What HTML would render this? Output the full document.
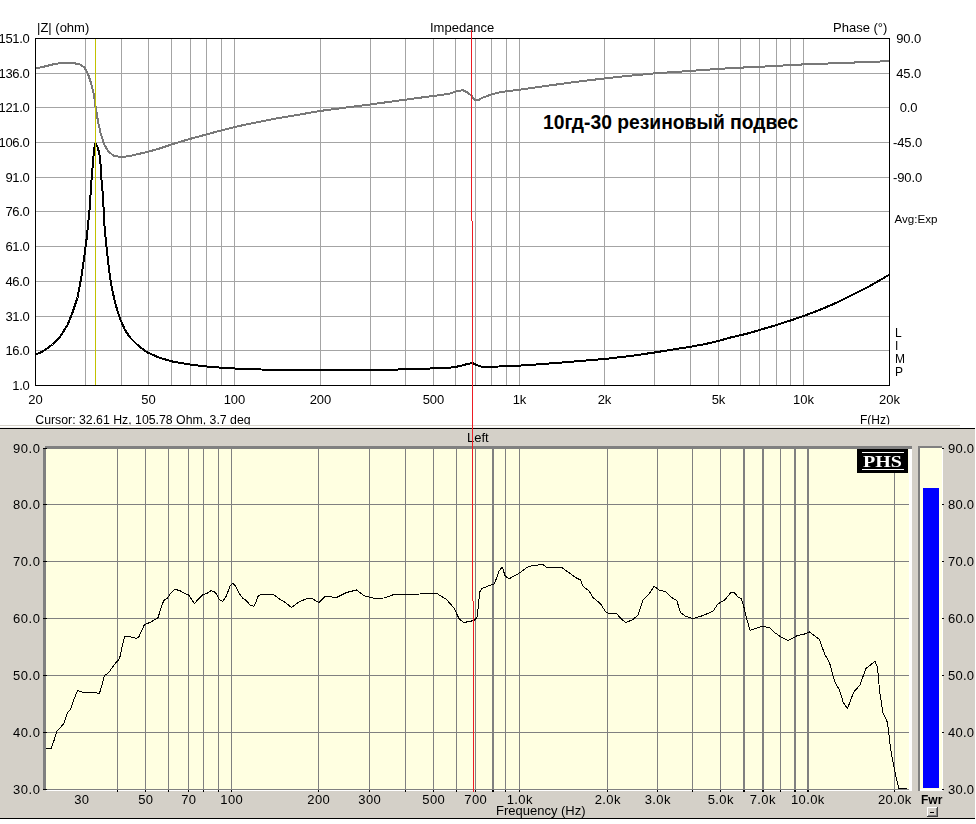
<!DOCTYPE html>
<html><head><meta charset="utf-8"><title>chart</title>
<style>html,body{margin:0;padding:0;background:#fff;}body{width:976px;height:824px;overflow:hidden;font-family:"Liberation Sans",sans-serif;}svg{display:block;position:absolute;left:0;top:0}text{font-family:"Liberation Sans",sans-serif;fill:#000}.s{font-family:"Liberation Serif",serif}</style>
</head><body>
<svg width="976" height="824" viewBox="0 0 976 824">
<rect x="0" y="0" width="976" height="824" fill="#ffffff"/>
<clipPath id="cc"><rect x="0" y="405" width="976" height="19.5"/></clipPath>
<filter id="g" x="0" y="0" width="976" height="824" filterUnits="userSpaceOnUse"><feOffset dx="0" dy="0"/></filter>
<g shape-rendering="crispEdges">
<rect x="85" y="38" width="1" height="348" fill="#a4a4a4"/>
<rect x="121" y="38" width="1" height="348" fill="#a4a4a4"/>
<rect x="148" y="38" width="1" height="348" fill="#a4a4a4"/>
<rect x="171" y="38" width="1" height="348" fill="#a4a4a4"/>
<rect x="190" y="38" width="1" height="348" fill="#a4a4a4"/>
<rect x="206" y="38" width="1" height="348" fill="#a4a4a4"/>
<rect x="221" y="38" width="1" height="348" fill="#a4a4a4"/>
<rect x="234" y="38" width="1" height="348" fill="#a4a4a4"/>
<rect x="320" y="38" width="1" height="348" fill="#a4a4a4"/>
<rect x="370" y="38" width="1" height="348" fill="#a4a4a4"/>
<rect x="405" y="38" width="1" height="348" fill="#a4a4a4"/>
<rect x="433" y="38" width="1" height="348" fill="#a4a4a4"/>
<rect x="455" y="38" width="1" height="348" fill="#a4a4a4"/>
<rect x="475" y="38" width="1" height="348" fill="#a4a4a4"/>
<rect x="491" y="38" width="1" height="348" fill="#a4a4a4"/>
<rect x="506" y="38" width="1" height="348" fill="#a4a4a4"/>
<rect x="519" y="38" width="1" height="348" fill="#a4a4a4"/>
<rect x="604" y="38" width="1" height="348" fill="#a4a4a4"/>
<rect x="654" y="38" width="1" height="348" fill="#a4a4a4"/>
<rect x="690" y="38" width="1" height="348" fill="#a4a4a4"/>
<rect x="718" y="38" width="1" height="348" fill="#a4a4a4"/>
<rect x="740" y="38" width="1" height="348" fill="#a4a4a4"/>
<rect x="759" y="38" width="1" height="348" fill="#a4a4a4"/>
<rect x="776" y="38" width="1" height="348" fill="#a4a4a4"/>
<rect x="790" y="38" width="1" height="348" fill="#a4a4a4"/>
<rect x="803" y="38" width="1" height="348" fill="#a4a4a4"/>
<rect x="35" y="73" width="854" height="1" fill="#a4a4a4"/>
<rect x="35" y="107" width="854" height="1" fill="#a4a4a4"/>
<rect x="35" y="142" width="854" height="1" fill="#a4a4a4"/>
<rect x="35" y="177" width="854" height="1" fill="#a4a4a4"/>
<rect x="35" y="211" width="854" height="1" fill="#a4a4a4"/>
<rect x="35" y="246" width="854" height="1" fill="#a4a4a4"/>
<rect x="35" y="281" width="854" height="1" fill="#a4a4a4"/>
<rect x="35" y="316" width="854" height="1" fill="#a4a4a4"/>
<rect x="35" y="350" width="854" height="1" fill="#a4a4a4"/>
</g>
<polyline points="35.50,68.40 45.00,66.40 55.00,63.90 62.50,62.90 72.50,62.90 80.00,64.40 84.50,67.40 88.00,73.90 91.25,83.90 93.75,93.90 95.50,106.40 98.00,121.40 100.75,133.90 104.00,143.90 108.00,150.90 113.75,155.90 122.50,157.15 132.50,155.40 147.50,151.90 160.00,148.40 171.50,144.40 190.00,138.90 206.50,134.40 221.50,130.40 235.00,126.90 255.00,122.65 274.00,118.90 299.00,114.65 320.50,110.90 349.00,107.15 370.50,104.40 405.50,99.65 433.50,95.90 449.00,93.90 456.50,91.40 462.75,90.15 467.75,92.65 471.50,95.65 474.00,99.40 477.75,100.40 482.75,97.65 491.50,94.40 500.25,92.15 518.00,89.90 543.00,86.40 568.00,82.90 604.50,78.40 630.50,75.65 654.50,73.40 690.50,70.90 718.50,68.90 740.50,67.65 762.00,66.65 803.50,64.40 844.50,62.90 889.50,61.15" fill="none" stroke="#787878" stroke-width="2" stroke-linejoin="round" shape-rendering="crispEdges"/>
<polyline points="35.50,354.75 42.50,351.60 52.50,344.50 60.00,337.00 67.50,325.00 72.50,312.50 77.50,297.50 81.25,277.50 84.50,255.00 86.25,242.00 87.50,230.00 89.50,210.00 91.80,176.00 93.00,162.00 93.80,153.00 94.50,147.00 95.40,143.00 96.50,145.20 97.80,147.50 98.90,152.00 100.00,157.00 100.70,166.00 101.20,176.00 103.25,200.00 104.00,220.00 106.25,245.00 108.75,267.50 111.25,285.00 115.00,302.50 120.00,318.75 125.00,330.00 130.00,337.50 137.50,345.00 147.50,352.50 160.00,358.00 172.50,361.50 190.00,364.50 206.50,366.50 221.50,367.75 235.00,368.50 255.00,369.25 274.00,370.00 396.50,370.00 399.00,369.00 429.00,369.00 431.50,368.00 451.50,367.50 459.00,366.25 466.50,364.25 472.75,363.00 476.50,365.00 481.50,366.75 499.00,366.50 501.50,365.75 518.00,365.75 543.00,364.00 568.00,362.00 604.50,359.00 630.50,356.00 654.50,352.50 673.00,349.50 690.50,346.75 705.50,344.00 718.50,341.00 730.50,337.50 740.50,335.25 750.50,332.75 759.50,330.00 776.50,325.00 790.50,320.50 803.50,316.00 819.50,310.00 837.00,302.50 852.00,295.00 867.00,287.50 879.50,280.50 889.50,274.50" fill="none" stroke="#000000" stroke-width="2" stroke-linejoin="round" shape-rendering="crispEdges"/>
<g shape-rendering="crispEdges">
<rect x="95" y="38" width="1" height="348" fill="#c2c200"/>
<rect x="35" y="38" width="855" height="1" fill="#000"/>
<rect x="35" y="385" width="855" height="1" fill="#000"/>
<rect x="35" y="38" width="1" height="348" fill="#000"/>
<rect x="889" y="38" width="1" height="348" fill="#000"/>
</g>
<g font-size="13px" filter="url(#g)">
<text x="37" y="32">|Z| (ohm)</text>
<text x="430" y="32">Impedance</text>
<text x="833" y="32">Phase (°)</text>
<text x="29.5" y="43.0" text-anchor="end" letter-spacing="-0.3">151.0</text>
<text x="29.5" y="78.0" text-anchor="end" letter-spacing="-0.3">136.0</text>
<text x="29.5" y="112.0" text-anchor="end" letter-spacing="-0.3">121.0</text>
<text x="29.5" y="147.0" text-anchor="end" letter-spacing="-0.3">106.0</text>
<text x="29.5" y="182.0" text-anchor="end" letter-spacing="-0.3">91.0</text>
<text x="29.5" y="216.0" text-anchor="end" letter-spacing="-0.3">76.0</text>
<text x="29.5" y="251.0" text-anchor="end" letter-spacing="-0.3">61.0</text>
<text x="29.5" y="286.0" text-anchor="end" letter-spacing="-0.3">46.0</text>
<text x="29.5" y="321.0" text-anchor="end" letter-spacing="-0.3">31.0</text>
<text x="29.5" y="355.0" text-anchor="end" letter-spacing="-0.3">16.0</text>
<text x="29.5" y="390.0" text-anchor="end" letter-spacing="-0.3">1.0</text>
<text x="908.6" y="43.0" text-anchor="middle" letter-spacing="-0.1">90.0</text>
<text x="908.6" y="78.0" text-anchor="middle" letter-spacing="-0.1">45.0</text>
<text x="908.6" y="112.0" text-anchor="middle" letter-spacing="-0.1">0.0</text>
<text x="907.6" y="147.0" text-anchor="middle" letter-spacing="-0.1">-45.0</text>
<text x="907.6" y="182.0" text-anchor="middle" letter-spacing="-0.1">-90.0</text>
<text x="894.5" y="223" font-size="11.6px">Avg:Exp</text>
<text x="895" y="337" font-size="12px">L</text>
<text x="895" y="350" font-size="12px">I</text>
<text x="895" y="363" font-size="12px">M</text>
<text x="895" y="376" font-size="12px">P</text>
<text x="35.5" y="404" text-anchor="middle">20</text>
<text x="148.5" y="404" text-anchor="middle">50</text>
<text x="234.5" y="404" text-anchor="middle">100</text>
<text x="320.5" y="404" text-anchor="middle">200</text>
<text x="433.5" y="404" text-anchor="middle">500</text>
<text x="519.5" y="404" text-anchor="middle">1k</text>
<text x="604.5" y="404" text-anchor="middle">2k</text>
<text x="718.5" y="404" text-anchor="middle">5k</text>
<text x="803.5" y="404" text-anchor="middle">10k</text>
<text x="889.5" y="404" text-anchor="middle">20k</text>
<text x="860" y="424" font-size="12px" clip-path="url(#cc)">F(Hz)</text>
</g>
<text x="543" y="129" font-size="19.3px" font-weight="bold">10гд-30 резиновый подвес</text>
<g filter="url(#g)"><text x="35.3" y="424" font-size="12.3px" clip-path="url(#cc)">Cursor: 32.61 Hz, 105.78 Ohm, 3.7 deg</text></g>
<g shape-rendering="crispEdges">
<rect x="0" y="425" width="960" height="1" fill="#d6d2ca"/>
<rect x="0" y="427" width="960" height="1" fill="#f4f2ee"/>
<rect x="0" y="428" width="975" height="391" fill="#000"/>
<rect x="0" y="429" width="975" height="389" fill="#d4d0c8"/>
<rect x="45" y="446" width="867" height="3" fill="#808080"/>
<rect x="43" y="448" width="3" height="342" fill="#808080"/>
<rect x="909" y="449" width="3" height="342" fill="#ffffff"/>
<rect x="46" y="790" width="866" height="1" fill="#ffffff"/>
<rect x="46" y="449" width="863" height="341" fill="#ffffe1"/>
<rect x="117" y="449" width="1" height="341" fill="#808080"/>
<rect x="117" y="790" width="1" height="2" fill="#000"/>
<rect x="145" y="449" width="1" height="341" fill="#808080"/>
<rect x="145" y="790" width="1" height="2" fill="#000"/>
<rect x="168" y="449" width="1" height="341" fill="#808080"/>
<rect x="168" y="790" width="1" height="2" fill="#000"/>
<rect x="188" y="449" width="1" height="341" fill="#808080"/>
<rect x="188" y="790" width="1" height="2" fill="#000"/>
<rect x="203" y="449" width="1" height="341" fill="#808080"/>
<rect x="203" y="790" width="1" height="2" fill="#000"/>
<rect x="218" y="449" width="1" height="341" fill="#808080"/>
<rect x="218" y="790" width="1" height="2" fill="#000"/>
<rect x="231" y="449" width="1" height="341" fill="#808080"/>
<rect x="231" y="790" width="1" height="2" fill="#000"/>
<rect x="318" y="449" width="1" height="341" fill="#808080"/>
<rect x="318" y="790" width="1" height="2" fill="#000"/>
<rect x="369" y="449" width="1" height="341" fill="#808080"/>
<rect x="369" y="790" width="1" height="2" fill="#000"/>
<rect x="405" y="449" width="1" height="341" fill="#808080"/>
<rect x="405" y="790" width="1" height="2" fill="#000"/>
<rect x="433" y="449" width="1" height="341" fill="#808080"/>
<rect x="433" y="790" width="1" height="2" fill="#000"/>
<rect x="456" y="449" width="1" height="341" fill="#808080"/>
<rect x="456" y="790" width="1" height="2" fill="#000"/>
<rect x="475" y="449" width="1" height="341" fill="#808080"/>
<rect x="475" y="790" width="1" height="2" fill="#000"/>
<rect x="492" y="449" width="2" height="341" fill="#808080"/>
<rect x="492" y="790" width="2" height="2" fill="#000"/>
<rect x="505" y="449" width="1" height="341" fill="#808080"/>
<rect x="505" y="790" width="1" height="2" fill="#000"/>
<rect x="519" y="449" width="1" height="341" fill="#808080"/>
<rect x="519" y="790" width="1" height="2" fill="#000"/>
<rect x="607" y="449" width="1" height="341" fill="#808080"/>
<rect x="607" y="790" width="1" height="2" fill="#000"/>
<rect x="657" y="449" width="1" height="341" fill="#808080"/>
<rect x="657" y="790" width="1" height="2" fill="#000"/>
<rect x="692" y="449" width="1" height="341" fill="#808080"/>
<rect x="692" y="790" width="1" height="2" fill="#000"/>
<rect x="720" y="449" width="1" height="341" fill="#808080"/>
<rect x="720" y="790" width="1" height="2" fill="#000"/>
<rect x="743" y="449" width="2" height="341" fill="#808080"/>
<rect x="743" y="790" width="2" height="2" fill="#000"/>
<rect x="762" y="449" width="2" height="341" fill="#808080"/>
<rect x="762" y="790" width="2" height="2" fill="#000"/>
<rect x="780" y="449" width="1" height="341" fill="#808080"/>
<rect x="780" y="790" width="1" height="2" fill="#000"/>
<rect x="794" y="449" width="2" height="341" fill="#808080"/>
<rect x="794" y="790" width="2" height="2" fill="#000"/>
<rect x="807" y="449" width="2" height="341" fill="#808080"/>
<rect x="807" y="790" width="2" height="2" fill="#000"/>
<rect x="894" y="449" width="1" height="341" fill="#808080"/>
<rect x="894" y="790" width="1" height="2" fill="#000"/>
<rect x="46" y="504" width="863" height="1" fill="#808080"/>
<rect x="46" y="561" width="863" height="1" fill="#808080"/>
<rect x="46" y="618" width="863" height="1" fill="#808080"/>
<rect x="46" y="675" width="863" height="1" fill="#808080"/>
<rect x="46" y="732" width="863" height="1" fill="#808080"/>
<rect x="46" y="789" width="863" height="1" fill="#808080"/>
<rect x="43" y="448" width="4" height="1" fill="#000"/>
<rect x="43" y="504" width="4" height="1" fill="#000"/>
<rect x="43" y="561" width="4" height="1" fill="#000"/>
<rect x="43" y="618" width="4" height="1" fill="#000"/>
<rect x="43" y="675" width="4" height="1" fill="#000"/>
<rect x="43" y="732" width="4" height="1" fill="#000"/>
<rect x="43" y="789" width="4" height="1" fill="#000"/>
<rect x="918" y="446" width="24" height="2" fill="#808080"/>
<rect x="918" y="446" width="2" height="345" fill="#808080"/>
<rect x="920" y="448" width="23" height="343" fill="#ffffff"/>
<rect x="920" y="448" width="22" height="341" fill="#ffffe1"/>
<rect x="923" y="488" width="16" height="300" fill="#0000ff"/>
<rect x="942" y="448" width="2" height="1" fill="#000"/>
<rect x="942" y="504" width="2" height="1" fill="#000"/>
<rect x="942" y="561" width="2" height="1" fill="#000"/>
<rect x="942" y="618" width="2" height="1" fill="#000"/>
<rect x="942" y="675" width="2" height="1" fill="#000"/>
<rect x="942" y="732" width="2" height="1" fill="#000"/>
<rect x="942" y="789" width="2" height="1" fill="#000"/>
<rect x="857" y="449" width="51" height="24" fill="#000"/>
<rect x="862" y="452" width="42" height="1" fill="#fff"/>
<rect x="862" y="469" width="42" height="1" fill="#fff"/>
<rect x="927" y="807" width="11" height="10" fill="#404040"/>
<rect x="927" y="807" width="10" height="9" fill="#ffffff"/>
<rect x="928" y="808" width="9" height="8" fill="#808080"/>
<rect x="928" y="808" width="8" height="7" fill="#d4d0c8"/>
<rect x="930" y="812" width="4" height="1" fill="#000"/>
</g>
<g filter="url(#g)"><text class="s" x="863" y="467.3" font-size="17.6px" font-weight="bold" textLength="39" lengthAdjust="spacingAndGlyphs" style="fill:#fff">PHS</text></g>
<polyline points="46.00,748.50 51.25,748.50 53.75,741.25 57.00,731.25 63.75,723.75 67.50,712.50 70.50,709.50 73.75,700.00 77.50,690.50 83.75,692.50 93.75,692.75 99.50,693.25 102.00,685.00 104.25,675.75 108.75,672.50 115.00,663.75 119.50,658.75 122.00,647.50 124.50,636.75 128.75,636.50 136.25,638.25 138.75,637.00 144.50,624.50 150.00,622.50 158.00,617.75 161.25,607.50 163.75,600.50 167.50,598.00 171.25,592.50 175.00,589.25 180.00,590.75 185.00,593.75 188.75,595.00 192.00,600.00 194.50,603.50 198.00,599.50 202.50,595.00 207.50,593.00 211.25,590.50 215.50,592.50 219.50,599.50 222.50,601.50 226.25,596.25 230.00,586.25 232.50,583.25 235.50,585.75 238.75,592.50 242.50,598.00 246.25,600.50 250.00,605.00 253.75,606.25 256.25,601.25 258.00,596.25 261.25,594.50 274.00,594.75 279.00,598.75 285.25,602.50 291.50,607.50 299.00,602.00 306.50,598.75 311.50,598.25 319.00,602.50 325.25,596.25 336.50,597.50 346.50,592.50 356.50,590.00 364.00,595.75 374.00,598.25 384.00,598.00 394.00,594.50 414.00,594.25 436.50,593.25 446.50,599.50 454.00,608.00 459.00,618.75 464.00,622.50 474.00,620.50 477.00,617.50 478.50,605.00 479.50,592.50 481.50,588.75 489.00,585.75 494.50,583.75 499.00,571.25 502.25,567.00 505.25,576.25 509.00,578.75 518.00,574.00 526.75,567.50 533.00,565.50 543.00,564.50 546.75,567.50 561.75,567.50 568.00,572.00 575.50,577.50 580.50,580.00 583.00,586.25 589.25,591.25 593.00,597.50 600.50,603.75 605.50,611.75 609.25,613.75 616.75,613.75 621.75,619.50 626.00,622.50 633.00,619.50 638.00,615.00 643.00,600.00 649.25,593.75 654.25,586.25 659.25,590.00 665.50,591.75 671.75,597.50 676.75,600.50 680.50,612.50 685.50,616.25 693.00,618.75 703.00,615.50 713.00,611.25 718.00,603.75 724.25,600.50 730.50,593.00 734.25,592.50 738.00,597.00 741.25,598.50 744.00,607.50 747.00,620.00 750.00,630.25 755.75,628.50 762.00,626.50 769.50,627.50 774.50,632.50 780.75,636.75 788.25,640.50 797.00,635.75 804.50,634.00 809.50,632.00 819.50,639.50 824.50,653.75 829.50,662.50 832.75,675.00 835.75,683.75 839.50,690.00 843.25,702.50 847.50,708.75 851.50,697.50 854.50,691.25 860.00,685.00 865.75,668.75 875.00,661.25 877.50,667.50 879.50,690.00 882.75,712.50 887.50,722.50 890.75,750.00 894.50,770.00 897.00,781.25 898.75,788.25 907.00,788.25" fill="none" stroke="#000000" stroke-width="1" stroke-linejoin="round" shape-rendering="crispEdges"/>
<g font-size="13px" filter="url(#g)">
<text x="40.6" y="453.0" text-anchor="end" letter-spacing="0.6">90.0</text>
<text x="974.4" y="453.0" text-anchor="end" letter-spacing="0.3">90.0</text>
<text x="40.6" y="509.0" text-anchor="end" letter-spacing="0.6">80.0</text>
<text x="974.4" y="509.0" text-anchor="end" letter-spacing="0.3">80.0</text>
<text x="40.6" y="566.0" text-anchor="end" letter-spacing="0.6">70.0</text>
<text x="974.4" y="566.0" text-anchor="end" letter-spacing="0.3">70.0</text>
<text x="40.6" y="623.0" text-anchor="end" letter-spacing="0.6">60.0</text>
<text x="974.4" y="623.0" text-anchor="end" letter-spacing="0.3">60.0</text>
<text x="40.6" y="680.0" text-anchor="end" letter-spacing="0.6">50.0</text>
<text x="974.4" y="680.0" text-anchor="end" letter-spacing="0.3">50.0</text>
<text x="40.6" y="737.0" text-anchor="end" letter-spacing="0.6">40.0</text>
<text x="974.4" y="737.0" text-anchor="end" letter-spacing="0.3">40.0</text>
<text x="40.6" y="794.0" text-anchor="end" letter-spacing="0.6">30.0</text>
<text x="974.4" y="794.0" text-anchor="end" letter-spacing="0.3">30.0</text>
<text x="81.8" y="804" text-anchor="middle" letter-spacing="0.4">30</text>
<text x="145.8" y="804" text-anchor="middle" letter-spacing="0.4">50</text>
<text x="188.8" y="804" text-anchor="middle" letter-spacing="0.4">70</text>
<text x="231.8" y="804" text-anchor="middle" letter-spacing="0.4">100</text>
<text x="318.8" y="804" text-anchor="middle" letter-spacing="0.4">200</text>
<text x="369.8" y="804" text-anchor="middle" letter-spacing="0.4">300</text>
<text x="433.8" y="804" text-anchor="middle" letter-spacing="0.4">500</text>
<text x="475.8" y="804" text-anchor="middle" letter-spacing="0.4">700</text>
<text x="519.8" y="804" text-anchor="middle" letter-spacing="0.4">1.0k</text>
<text x="607.8" y="804" text-anchor="middle" letter-spacing="0.4">2.0k</text>
<text x="657.8" y="804" text-anchor="middle" letter-spacing="0.4">3.0k</text>
<text x="720.8" y="804" text-anchor="middle" letter-spacing="0.4">5.0k</text>
<text x="762.8" y="804" text-anchor="middle" letter-spacing="0.4">7.0k</text>
<text x="807.8" y="804" text-anchor="middle" letter-spacing="0.4">10.0k</text>
<text x="894.8" y="804" text-anchor="middle" letter-spacing="0.4">20.0k</text>
<text x="496" y="815">Frequency (Hz)</text>
<text x="467" y="442">Left</text>
<text x="921" y="804" font-weight="bold" font-size="12px">Fwr</text>
</g>
<g shape-rendering="crispEdges"><rect x="471" y="30" width="1" height="191" fill="#ed1c24"/><rect x="472" y="221" width="1" height="380" fill="#ed1c24"/><rect x="473" y="601" width="1" height="191" fill="#ed1c24"/></g>
</svg>
</body></html>
